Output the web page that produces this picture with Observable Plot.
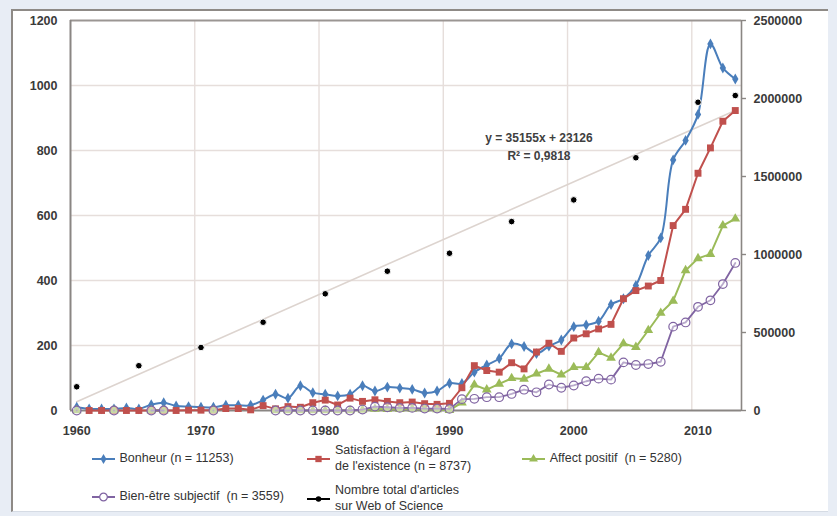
<!DOCTYPE html>
<html>
<head>
<meta charset="utf-8">
<script src="https://cdn.jsdelivr.net/npm/d3@7"></script>
<script src="https://cdn.jsdelivr.net/npm/@observablehq/plot@0.6"></script>
<style>
  html, body { margin: 0; padding: 0; background: #e8edf5; }
  #wrap { position: relative; width: 837px; height: 516px; overflow: hidden; font-family: "Liberation Sans", Arial, sans-serif; }
  #frame { position: absolute; left: 11px; top: 9px; width: 817px; height: 503px; background: #fff;
           border-left: 2px solid #8e8a86; border-top: 2px solid #8e8a86; border-bottom: 1px solid #d5dbe4; box-sizing: border-box; }
  #chart { position: absolute; left: 0; top: 0; }
  .leg { position: absolute; display: flex; align-items: center; font-size: 12.5px; color: #333; line-height: 15.7px; white-space: pre; }
  .leg svg { margin-right: 5px; flex: none; }
</style>
</head>
<body>
<div id="wrap">
  <div id="frame"></div>
  <div id="chart"></div>
  <div id="legend"></div>
</div>
<script>
// ---- Data ----
const years = [1960,1961,1962,1963,1964,1965,1966,1967,1968,1969,
               1970,1971,1972,1973,1974,1975,1976,1977,1978,1979,
               1980,1981,1982,1983,1984,1985,1986,1987,1988,1989,
               1990,1991,1992,1993,1994,1995,1996,1997,1998,1999,
               2000,2001,2002,2003,2004,2005,2006,2007,2008,2009,
               2010,2011,2012,2013];

const bonheur = [10,5,5,5,8,5,18,24,14,12,
                 10,10,16,16,16,32,50,38,76,55,
                 50,45,50,76,60,72,69,65,54,60,
                 84,83,118,140,160,205,197,175,198,217,
                 258,263,275,326,344,385,477,531,771,831,
                 911,1128,1054,1020];

const satisfaction = [null,0,0,0,0,0,0,0,0,1,
                      1,1,6,6,2,15,5,12,10,24,
                      32,17,38,28,33,28,24,26,21,19,
                      22,70,138,123,118,147,128,180,207,182,
                      223,236,251,265,344,369,383,400,569,619,
                      730,808,890,923];

const affect = [0,null,null,0,null,null,0,0,null,null,
                null,0,null,null,null,null,0,0,0,0,
                0,0,0,2,5,4,4,5,4,3,
                1,24,79,64,82,99,97,113,128,110,
                133,133,179,162,206,195,247,300,337,431,
                468,481,569,590];

const bienEtre = [0,null,null,0,null,null,0,0,null,null,
                  null,0,null,null,null,null,0,0,0,0,
                  0,0,0,3,12,10,8,8,6,6,
                  5,35,36,41,41,51,64,56,80,70,
                  77,90,98,95,148,140,143,150,258,271,
                  319,339,389,454];

const articleYears  = [1960,1965,1970,1975,1980,1985,1990,1995,2000,2005,2010,2013];
const articleValues = [152000,287000,404000,566000,748000,893000,1008000,1211000,1350000,1620000,1976000,2019000];

const leftTicks  = [0,200,400,600,800,1000,1200];
const rightTicks = [0,500000,1000000,1500000,2000000,2500000];
const xLabels    = [1960,1970,1980,1990,2000,2010];
const equationLines = ["y = 35155x + 23126", "R² = 0,9818"];

const seriesNames = ["Bonheur (n = 11253)", "Satisfaction à l'égard\nde l'existence (n = 8737)", "Affect positif  (n = 5280)",
                     "Bien-être subjectif  (n = 3559)", "Nombre total d'articles\nsur Web of Science"];

// ---- Build tables ----
const rows = years.map((year, i) => ({year, bonheur: bonheur[i], satisfaction: satisfaction[i], affect: affect[i], bienEtre: bienEtre[i]}));
const articles = articleYears.map((year, i) => ({year, value: articleValues[i]}));

const leftMax = 1200, rightMax = 2500000;
const k = leftMax / rightMax; // secondary axis → primary units

const C = {blue: "#4a7ebb", red: "#c0504d", green: "#9bbb59", purple: "#8064a2", black: "#000"};
const gridColor = "#e6dedb", axisColor = "#8a8683", labelColor = "#3a3a3a";
const xMin = years[0] - 0.5, xMax = years[years.length - 1] + 0.5;

const chart = Plot.plot({
  width: 837,
  height: 440,
  marginLeft: 70,
  marginRight: 96,
  marginTop: 20,
  marginBottom: 30,
  x: {type: "linear", domain: [xMin, xMax], axis: null},
  y: {domain: [0, leftMax], axis: null},
  style: {background: "transparent", fontFamily: "'Liberation Sans', Arial, sans-serif", overflow: "visible"},
  marks: [
    // grid
    Plot.ruleY(leftTicks.filter(d => d > 0 && d < leftMax), {stroke: gridColor, strokeWidth: 1.4}),
    Plot.ruleX(xLabels.slice(1).map(d => d - 0.5), {stroke: gridColor, strokeWidth: 1.4}),
    // frame / axes
    Plot.ruleY([leftMax], {stroke: "#9b9693", strokeWidth: 1.8}),
    Plot.ruleX([xMin], {stroke: axisColor, strokeWidth: 2}),
    Plot.ruleX([xMax], {stroke: axisColor, strokeWidth: 1.6}),
    Plot.ruleY([0], {stroke: axisColor, strokeWidth: 2}),
    Plot.ruleY(rightTicks, {y: d => d * k, x1: xMax, x2: xMax + 0.4, stroke: axisColor, strokeWidth: 1.4}),
    // trend line
    Plot.linearRegressionY(articles, {x: "year", y: d => d.value * k, stroke: "#ddd4cf", strokeWidth: 1.6, ci: 0}),
    // series
    Plot.line(rows, {x: "year", y: "bonheur", stroke: C.blue, strokeWidth: 2, curve: "catmull-rom"}),
    Plot.dot(rows, {x: "year", y: "bonheur", symbol: "diamond", r: 3.3, fill: C.blue}),
    Plot.line(rows, {x: "year", y: "satisfaction", stroke: C.red, strokeWidth: 2}),
    Plot.dot(rows, {x: "year", y: "satisfaction", symbol: "square", r: 3.9, fill: C.red}),
    Plot.line(rows, {x: "year", y: "affect", stroke: C.green, strokeWidth: 2}),
    Plot.dot(rows, {x: "year", y: "affect", symbol: "triangle", r: 3.6, fill: C.green}),
    Plot.line(rows, {x: "year", y: "bienEtre", stroke: C.purple, strokeWidth: 1.8}),
    Plot.dot(rows, {x: "year", y: "bienEtre", symbol: "circle", r: 4.3, fill: "#fff", fillOpacity: 0.45, stroke: C.purple, strokeWidth: 1.2}),
    Plot.dot(articles, {x: "year", y: d => d.value * k, r: 3.3, fill: C.black, stroke: "#fff", strokeWidth: 1}),
    // equation
    Plot.text(equationLines, {x: 1997.2, y: (d, i) => 837 - i * 53, text: d => d, fontSize: 12, fontWeight: "bold", fill: "#404040"}),
    // axis labels
    Plot.text(leftTicks, {x: xMin, y: d => d, text: d => String(d), textAnchor: "end", dx: -13, fontSize: 12.5, fontWeight: "bold", fill: labelColor}),
    Plot.text(rightTicks, {x: xMax, y: d => d * k, text: d => String(d), textAnchor: "start", dx: 12, fontSize: 12.5, fontWeight: "bold", fill: labelColor}),
    Plot.text(xLabels, {x: d => d, y: 0, dy: 20, text: d => String(d), fontSize: 12.5, fontWeight: "bold", fill: labelColor})
  ]
});
document.getElementById("chart").appendChild(chart);

// ---- Legend ----
const legendItems = [
  {name: seriesNames[0], color: C.blue,   sym: d3.symbolDiamond,  size: 30, fill: true,  left: 91.5, cy: 459},
  {name: seriesNames[1], color: C.red,    sym: d3.symbolSquare,   size: 40, fill: true,  left: 307,  cy: 459},
  {name: seriesNames[2], color: C.green,  sym: d3.symbolTriangle, size: 34, fill: true,  left: 521.7, cy: 459},
  {name: seriesNames[3], color: C.purple, sym: d3.symbolCircle,   size: 46, fill: false, left: 91.5, cy: 497},
  {name: seriesNames[4], color: C.black,  sym: d3.symbolCircle,   size: 24, fill: true,  left: 307,  cy: 499}
];
const legend = document.getElementById("legend");
legendItems.forEach(it => {
  const div = document.createElement("div");
  div.className = "leg";
  div.style.left = it.left + "px";
  const lines = it.name.split("\n").length;
  const h = lines * 15.7;
  div.style.top = (it.cy - h / 2) + "px";
  div.style.height = h + "px";
  const svg = d3.create("svg").attr("width", 23).attr("height", 12);
  svg.append("line").attr("x1", 0).attr("x2", 23).attr("y1", 6).attr("y2", 6).attr("stroke", it.color).attr("stroke-width", 2);
  svg.append("path").attr("transform", "translate(11.5,6)").attr("d", d3.symbol(it.sym, it.size)())
     .attr("fill", it.fill ? it.color : "#fff").attr("stroke", it.fill ? "none" : it.color).attr("stroke-width", 1.2);
  div.appendChild(svg.node());
  const span = document.createElement("span");
  span.textContent = it.name;
  div.appendChild(span);
  legend.appendChild(div);
});
</script>
</body>
</html>
